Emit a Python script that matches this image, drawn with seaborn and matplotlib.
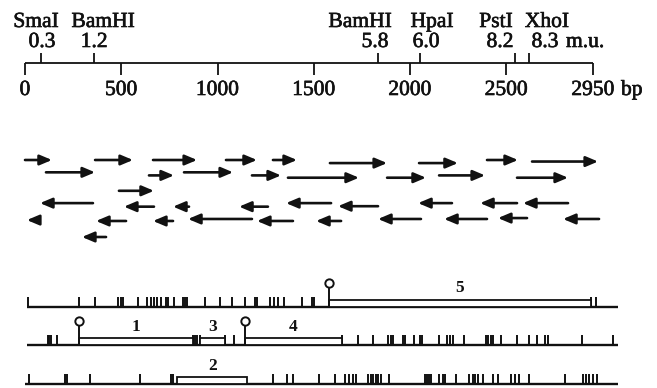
import matplotlib
matplotlib.use("Agg")
import matplotlib.pyplot as plt
import matplotlib.patheffects as pe
import seaborn as sns
import pandas as pd
from matplotlib.patches import Rectangle

# restriction map
site_names = ["SmaI", "BamHI", "BamHI", "HpaI", "PstI", "XhoI"]
site_bp = [81, 360, 1835, 2052, 2544, 2620]
site_mu = ["0.3", "1.2", "5.8", "6.0", "8.2", "8.3"]
scale_ticks = [0, 500, 1000, 1500, 2000, 2500, 2950]

# sequencing runs: tail -> head (bp), and lane
fwd_from = [0, 364, 665, 1044, 1288, 1584, 2047, 2400, 2634,
            109, 644, 826, 1179, 1366, 1881, 2151, 2556,
            488]
fwd_to = [140, 561, 894, 1205, 1413, 1881, 2249, 2561, 2977,
          364, 774, 1081, 1330, 1735, 2083, 2390, 2821,
          670]
fwd_lane = [0, 0, 0, 0, 0, 0.2, 0.2, 0, 0.1,
            0.8, 1.0, 0.8, 1.0, 1.15, 1.15, 1.0, 1.15,
            2.0]

rev_from = [353, 670, 852, 1262, 1590, 1834, 2218, 2556, 2821,
            73, 525, 769, 1179, 1392, 1642, 2057, 2400, 2608, 2982,
            421]
rev_to = [78, 514, 769, 1112, 1356, 1626, 2042, 2364, 2587,
          10, 369, 665, 847, 1205, 1512, 1834, 2177, 2457, 2795,
          296]
rev_lane = [2.8, 3.03, 3.03, 3.03, 2.8, 3.0, 2.8, 2.8, 2.8,
            3.9, 3.96, 3.96, 3.83, 3.96, 3.96, 3.83, 3.83, 3.77, 3.83,
            5.0]

# stop codons in the three reading frames (bp)
frame1_stops = [16, 281, 364, 483, 499, 509, 587, 634, 652, 670, 686, 706,
                732, 743, 774, 821, 831, 842, 935, 1013, 1075, 1143, 1195,
                1203, 1273, 1294, 1314, 1345, 1439, 1491, 1501, 2940, 2966]
frame2_stops = [117, 126, 135, 165, 873, 883, 894, 909, 1039, 1086, 1645,
                1728, 1806, 1887, 1899, 1910, 1962, 1974, 2021, 2052, 2064,
                2152, 2191, 2208, 2222, 2282, 2393, 2407, 2419, 2430, 2473,
                2557, 2620, 2661, 2701, 2718, 2892, 3056]
frame3_stops = [22, 208, 217, 338, 597, 756, 769, 1288, 1361, 1394, 1526,
                1610, 1662, 1685, 1702, 1719, 1783, 1797, 1809, 1823, 1835,
                1848, 1892, 2078, 2088, 2100, 2109, 2151, 2170, 2182, 2239,
                2308, 2326, 2338, 2355, 2378, 2433, 2459, 2523, 2545, 2568,
                2620, 2805, 2900, 2913, 2931, 2952, 2973]
frame_from = [10, 10, 0]
frame_to = [3081, 3081, 3081]

# open reading frames
orf_id = ["1", "2", "3", "4", "5"]
orf_frame = [2, 3, 2, 2, 1]
orf_start = [278, 792, 909, 1144, 1579]
orf_end = [873, 1153, 1039, 1645, 2940]
orf_atg = [True, False, False, True, True]

# layout (pixels)
PX = 0.1925
X0 = 25
INK = "#111111"
HEAVY = [pe.withStroke(linewidth=0.45, foreground=INK)]


def bp(px):
    return (px - X0) / PX


def label(x, y, s, ha="center", size=15.5):
    ax.text(x, y, s, ha=ha, va="baseline", fontsize=size, color=INK,
            path_effects=HEAVY)


sns.set_theme(style="white")
plt.rcParams["font.family"] = ["Liberation Serif", "DejaVu Serif"]

fig = plt.figure(figsize=(6.57, 3.88), dpi=100)
ax = fig.add_axes([0, 0, 1, 1])

# scale bar
axis_y = 63
ax.hlines(axis_y, 0, 2950, color=INK, lw=1.3)
ax.vlines(scale_ticks, axis_y, axis_y + 12, color=INK, lw=1.3)
for t in scale_ticks:
    label(t, 95, str(t))
label(bp(621), 95, "bp", ha="left")

ax.vlines(site_bp, axis_y - 10, axis_y, color=INK, lw=1.3)
name_x = [36, 103, 360, 432, 496, 547]
mu_x = [42, 94, 375, 426, 500, 545]
for i in range(len(site_names)):
    label(bp(name_x[i]), 27, site_names[i])
    label(bp(mu_x[i]), 47, site_mu[i])
label(bp(566), 47, "m.u.", ha="left")

# sequencing arrows
reads = pd.DataFrame({
    "tail": fwd_from + rev_from,
    "head": fwd_to + rev_to,
    "lane": fwd_lane + rev_lane,
})
for _, r in reads.iterrows():
    y = 160 + 15.4 * r["lane"]
    ax.annotate("", xy=(r["head"], y), xytext=(r["tail"], y),
                arrowprops=dict(arrowstyle="-|>,head_length=0.45,head_width=0.19",
                                lw=1.9, color=INK, shrinkA=0, shrinkB=0,
                                mutation_scale=16))

# reading frames
frame_base = [306.5, 345, 383.5]
frame_stops = [frame1_stops, frame2_stops, frame3_stops]
for f in range(3):
    base = frame_base[f]
    ax.hlines(base, frame_from[f], frame_to[f], color=INK, lw=1.7)
    ax.vlines(frame_stops[f], base - 10, base, color=INK, lw=1.4)

orfs = pd.DataFrame({"id": orf_id, "frame": orf_frame, "start": orf_start,
                     "end": orf_end, "atg": orf_atg})
orfs["base"] = [frame_base[f - 1] for f in orfs["frame"]]
for _, o in orfs.iterrows():
    base = o["base"]
    ax.add_patch(Rectangle((o["start"], base - 7), o["end"] - o["start"], 7,
                           facecolor="white", edgecolor=INK, lw=1.3, zorder=3))
    ax.text((o["start"] + o["end"]) / 2, base - 14, o["id"], ha="center",
            va="baseline", fontsize=12.5, fontweight="bold", color=INK)
atg = orfs[orfs["atg"]].copy()
atg["cy"] = atg["base"] - 24
ax.vlines(atg["start"], atg["cy"] + 3.5, atg["base"], color=INK, lw=1.4, zorder=4)
sns.scatterplot(data=atg, x="start", y="cy", ax=ax, marker="o", s=36,
                facecolor="white", edgecolor=INK, linewidth=1.4, zorder=5,
                legend=False)
ax.set_xlim(bp(0), bp(657))
ax.set_ylim(388, 0)
ax.axis("off")

fig.savefig("out.png", dpi=100)
